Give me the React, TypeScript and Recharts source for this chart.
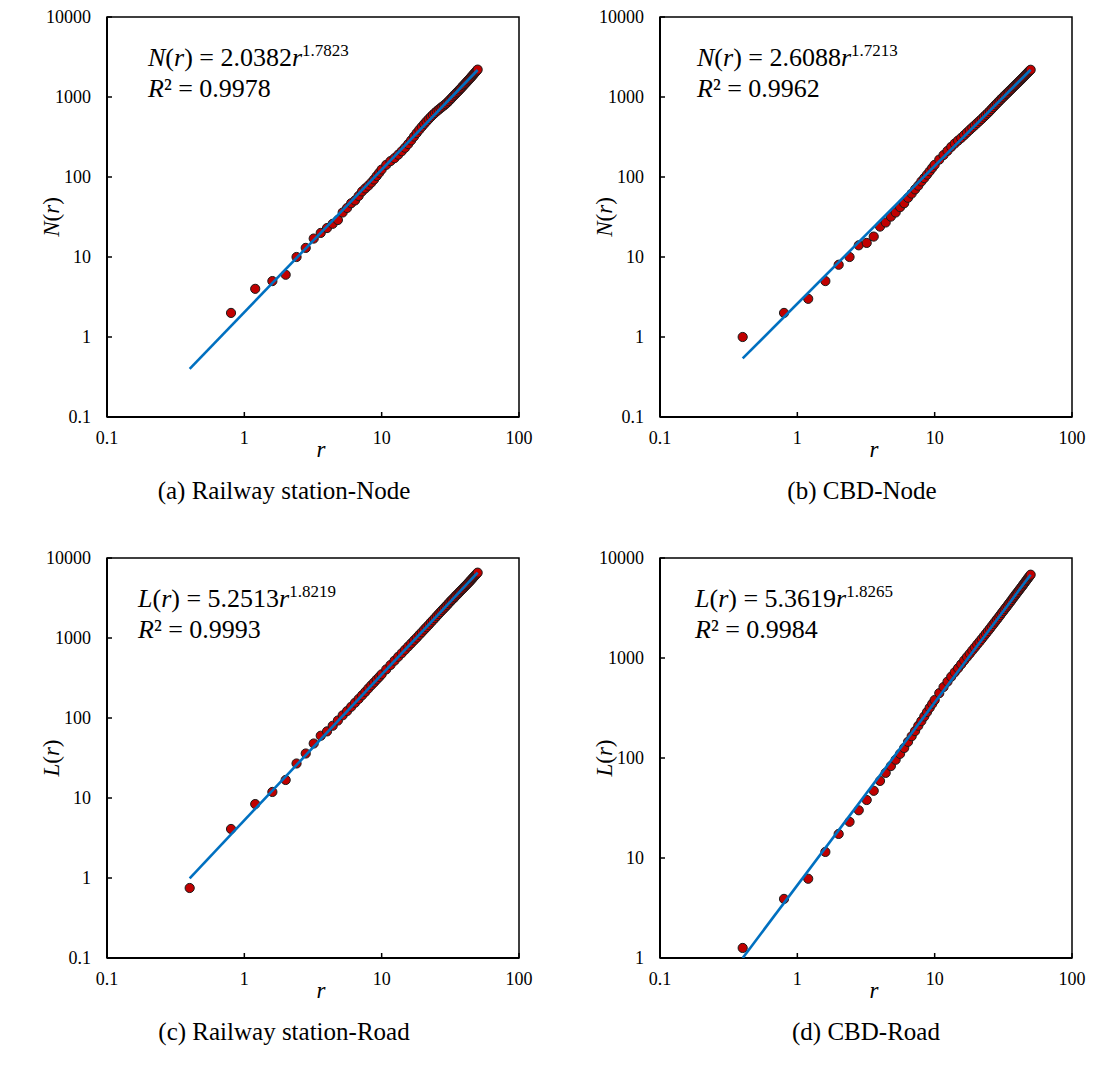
import { ScatterChart, Scatter, XAxis, YAxis, ReferenceArea } from 'recharts'

// radius r (step 0.4 up to 10, then 0.8)
const rValues = [
  0.4, 0.8, 1.2, 1.6, 2.0, 2.4, 2.8, 3.2, 3.6, 4.0, 4.4, 4.8, 5.2, 5.6, 6.0, 6.4, 6.8, 7.2, 7.6, 8.0, 8.4, 8.8, 9.2, 9.6, 10.0,
  10.8, 11.6, 12.4, 13.2, 14.0, 14.8, 15.6, 16.4, 17.2, 18.0, 18.8, 19.6, 20.4, 21.2, 22.0, 22.8, 23.6, 24.4, 25.2, 26.0,
  26.8, 27.6, 28.4, 29.2, 30.0, 30.8, 31.6, 32.4, 33.2, 34.0, 34.8, 35.6, 36.4, 37.2, 38.0, 38.8, 39.6, 40.4, 41.2, 42.0,
  42.8, 43.6, 44.4, 45.2, 46.0, 46.8, 47.6, 48.4, 49.2, 50.0,
]

const nodeRailway = [
  null, 2, 4, 5, 6, 10, 13, 17, 20, 23, 26, 29, 36, 41, 47, 51, 58, 66, 72, 78, 85, 93, 103, 113, 124,
  142, 158, 172, 190, 210, 232, 258, 287, 320, 355, 390, 425, 460, 495, 530, 565, 600, 632, 665, 695,
  725, 755, 785, 815, 850, 890, 930, 975, 1020, 1065, 1110, 1155, 1200, 1250, 1300, 1350, 1405, 1455, 1510, 1565,
  1620, 1680, 1740, 1800, 1865, 1930, 1995, 2060, 2130, 2200,
]

const nodeCbd = [
  1, 2, 3, 5, 8, 10, 14, 15, 18, 24, 27, 32, 36, 42, 47, 55, 62, 70, 78, 88, 97, 107, 118, 130, 142,
  165, 188, 212, 238, 262, 285, 308, 333, 360, 388, 415, 443, 472, 502, 532, 565, 598, 632, 668, 708,
  748, 790, 830, 872, 915, 958, 1000, 1045, 1088, 1130, 1178, 1222, 1270, 1320, 1368, 1415, 1465, 1512, 1565, 1615,
  1668, 1722, 1778, 1838, 1898, 1955, 2015, 2075, 2135, 2190,
]

const roadRailway = [
  0.75, 4.1, 8.4, 11.9, 16.8, 27, 36, 48, 60, 68, 80, 93, 108, 122, 138, 155, 173, 192, 212, 234, 256, 278, 302, 326, 352,
  405, 460, 520, 582, 645, 712, 782, 855, 932, 1010, 1095, 1180, 1272, 1362, 1458, 1562, 1665, 1770, 1880, 1995,
  2110, 2230, 2345, 2465, 2590, 2720, 2850, 2985, 3105, 3240, 3390, 3515, 3660, 3810, 3955, 4100, 4260, 4400, 4575, 4725,
  4890, 5055, 5235, 5410, 5600, 5780, 5975, 6165, 6360, 6560,
]

const roadCbd = [
  1.26, 3.9, 6.2, 11.5, 17.4, 23, 30, 38, 47, 59, 71, 83, 96, 110, 126, 145, 165, 186, 210, 234, 260, 288, 318, 348, 380,
  445, 512, 580, 650, 720, 790, 865, 945, 1025, 1105, 1190, 1275, 1365, 1455, 1550, 1650, 1752, 1855, 1962, 2075,
  2190, 2310, 2428, 2550, 2680, 2815, 2945, 3083, 3215, 3355, 3512, 3645, 3800, 3968, 4118, 4280, 4440, 4598, 4770, 4938,
  5102, 5280, 5465, 5645, 5845, 6025, 6225, 6415, 6610, 6810,
]

// power-law trend line end points
const fitR = [0.4, 50]
const fitNodeRailway = [0.4, 2175]
const fitNodeCbd = [0.54, 2193]
const fitRoadRailway = [0.99, 6546]
const fitRoadCbd = [1.0, 6808]

const xTicks = [0.1, 1, 10, 100]
const yTicksWide = [0.1, 1, 10, 100, 1000, 10000]
const yTicksNarrow = [1, 10, 100, 1000, 10000]

const FONT = '"Liberation Serif", "Times New Roman", serif'

const toPoints = (xs: number[], ys: (number | null)[]) =>
  xs.map((x, i) => ({ x, y: ys[i] })).filter((p) => p.y !== null)

const XTick = ({ x, y, payload }: any) => (
  <g>
    <line x1={x} y1={y} x2={x} y2={y - 5} stroke="#000" strokeWidth={1.5} />
    <text x={x} y={y + 27} textAnchor="middle" fontSize={18} fontFamily={FONT} fill="#000">
      {String(payload.value)}
    </text>
  </g>
)

const YTick = ({ x, y, payload }: any) => (
  <g>
    <line x1={x} y1={y} x2={x + 5} y2={y} stroke="#000" strokeWidth={1.5} />
    <text x={x - 16} y={y + 6} textAnchor="end" fontSize={18} fontFamily={FONT} fill="#000">
      {String(payload.value)}
    </text>
  </g>
)

const Dot = ({ cx, cy }: any) => (
  <circle cx={cx} cy={cy} r={4.6} fill="#C00000" stroke="#1a1a1a" strokeWidth={1} />
)

const NoDot = () => <g />

interface PanelProps {
  left: number
  top: number
  values: (number | null)[]
  fit: number[]
  yTicks: number[]
  letter: string
  coef: string
  expo: string
  r2: string
  caption: string
  eqLeft: number
  captionX: number
}

function Panel({ left, top, values, fit, yTicks, letter, coef, expo, r2, caption, eqLeft, captionX }: PanelProps) {
  const pts = toPoints(rValues, values)
  const line = toPoints(fitR, fit)
  const yMin = yTicks[0]
  const yMax = yTicks[yTicks.length - 1]
  return (
    <div style={{ position: 'absolute', left, top, width: 539, height: 520, fontFamily: FONT, color: '#000' }}>
      <ScatterChart width={539} height={460} margin={{ top: 17, right: 20, bottom: 13, left: 47 }}>
        <XAxis
          dataKey="x"
          type="number"
          scale="log"
          domain={[0.1, 100]}
          ticks={xTicks}
          allowDataOverflow
          height={30}
          tickSize={0}
          tickMargin={0}
          tickLine={false}
          tick={<XTick />}
          interval={0}
          axisLine={{ stroke: '#000', strokeWidth: 2 }}
        />
        <YAxis
          dataKey="y"
          type="number"
          scale="log"
          domain={[yMin, yMax]}
          ticks={yTicks}
          allowDataOverflow
          width={60}
          tickSize={0}
          tickMargin={0}
          tickLine={false}
          tick={<YTick />}
          interval={0}
          axisLine={{ stroke: '#000', strokeWidth: 2 }}
        />
        <ReferenceArea x1={0.1} x2={100} y1={yMin} y2={yMax} fill="none" stroke="#000" strokeWidth={1.5} />
        <Scatter data={pts} shape={<Dot />} isAnimationActive={false} />
        <Scatter
          data={line}
          shape={<NoDot />}
          line={{ stroke: '#0070C0', strokeWidth: 2.6 }}
          isAnimationActive={false}
        />
      </ScatterChart>

      {/* fitted equation */}
      <div
        style={{
          position: 'absolute',
          left: eqLeft,
          top: 44,
          fontFamily: FONT,
          fontSize: 26,
          lineHeight: '28px',
          whiteSpace: 'nowrap',
        }}
      >
        <div>
          <i>{letter}</i>(<i>r</i>) = {coef}
          <i>r</i>
          <span style={{ fontSize: 17, position: 'relative', top: -10 }}>{expo}</span>
        </div>
        <div>
          <i>R</i>² = {r2}
        </div>
      </div>

      {/* y label */}
      <div
        style={{
          position: 'absolute',
          left: 52,
          top: 217,
          fontSize: 23,
          transform: 'translate(-50%, -50%) rotate(-90deg)',
          whiteSpace: 'nowrap',
        }}
      >
        <i>{letter}</i>(<i>r</i>)
      </div>

      {/* x label */}
      <div style={{ position: 'absolute', left: 321, top: 450, fontSize: 23, transform: 'translate(-50%, -50%)' }}>
        <i>r</i>
      </div>

      <div
        style={{
          position: 'absolute',
          left: captionX,
          top: 491,
          fontSize: 25,
          transform: 'translate(-50%, -50%)',
          whiteSpace: 'nowrap',
        }}
      >
        {caption}
      </div>
    </div>
  )
}

export default function App() {
  return (
    <div style={{ position: 'absolute', left: 0, top: 0, width: 1093, height: 1070, background: '#fff' }}>
      <Panel
        left={0}
        top={0}
        values={nodeRailway}
        fit={fitNodeRailway}
        yTicks={yTicksWide}
        letter="N"
        coef="2.0382"
        expo="1.7823"
        r2="0.9978"
        caption="(a) Railway station-Node"
        eqLeft={148}
        captionX={284}
      />
      <Panel
        left={553}
        top={0}
        values={nodeCbd}
        fit={fitNodeCbd}
        yTicks={yTicksWide}
        letter="N"
        coef="2.6088"
        expo="1.7213"
        r2="0.9962"
        caption="(b) CBD-Node"
        eqLeft={144}
        captionX={309}
      />
      <Panel
        left={0}
        top={541}
        values={roadRailway}
        fit={fitRoadRailway}
        yTicks={yTicksWide}
        letter="L"
        coef="5.2513"
        expo="1.8219"
        r2="0.9993"
        caption="(c) Railway station-Road"
        eqLeft={138}
        captionX={284}
      />
      <Panel
        left={553}
        top={541}
        values={roadCbd}
        fit={fitRoadCbd}
        yTicks={yTicksNarrow}
        letter="L"
        coef="5.3619"
        expo="1.8265"
        r2="0.9984"
        caption="(d) CBD-Road"
        eqLeft={142}
        captionX={313}
      />
    </div>
  )
}
